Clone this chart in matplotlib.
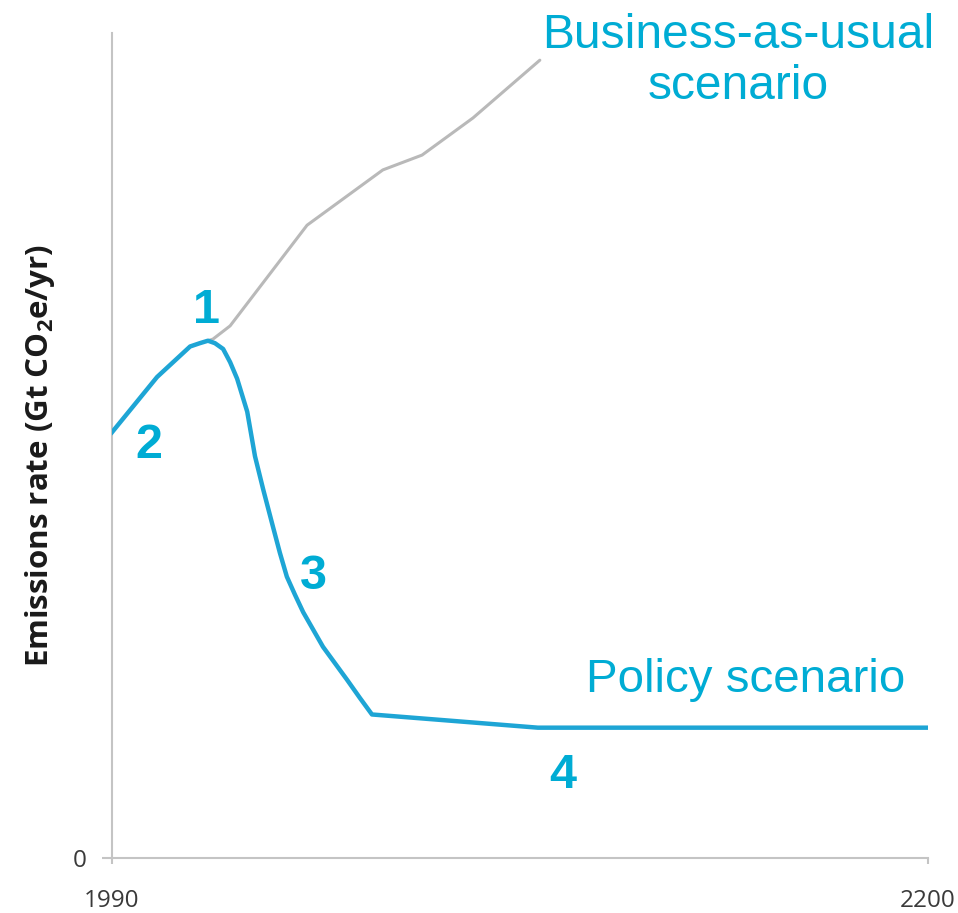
import matplotlib.pyplot as plt

# policy scenario (blue)
policy_years = [1990, 2001.6, 2010.1, 2012.6, 2014.7, 2016.5, 2018.6, 2020.4, 2022.2,
                2024.8, 2026.8, 2028.9, 2031.4, 2033.2, 2035.0, 2037.1, 2039.2, 2044.3,
                2047.4, 2050.5, 2053.8, 2056.9, 2078.3, 2099.6, 2200]
policy_vals = [51.6, 58.3, 62.0, 62.4, 62.7, 62.4, 61.7, 60.1, 58.1,
               54.1, 48.7, 44.7, 40.2, 37.0, 34.1, 31.9, 29.8, 25.6,
               23.6, 21.6, 19.4, 17.4, 16.6, 15.8, 15.8]

# business-as-usual (grey)
bau_years = [2014.7, 2016.0, 2020.4, 2040.2, 2059.7, 2069.8, 2082.9, 2100.1]
bau_vals = [62.7, 62.9, 64.5, 76.7, 83.4, 85.2, 89.7, 96.7]

# numbered callouts (year, value)
marks = ["1", "2", "3", "4"]
mark_x = [2014.3, 1999.6, 2041.8, 2106.0]
mark_y = [66.4, 50.0, 34.1, 10.0]

blue = "#1ea5d5"
txt_blue = "#00acd4"

fig = plt.figure(figsize=(9.58, 9.13), dpi=100)
ax = fig.add_axes([0.1169, 0.0602, 0.8518, 0.9037])

ax.plot(bau_years, bau_vals, color="#b9b9b9", lw=2.2, solid_capstyle="round", zorder=2)
ax.plot(policy_years, policy_vals, color=blue, lw=3.2, solid_joinstyle="round", zorder=3)

for m, x, y in zip(marks, mark_x, mark_y):
    ax.text(x, y, m, color=txt_blue, fontsize=35, fontweight="bold",
            family="Liberation Sans", ha="center", va="center")

ax.text(2151.1, 96.6, "Business-as-usual\nscenario", color=txt_blue, fontsize=34.5,
        family="Liberation Sans", ha="center", va="center", linespacing=1.15)
ax.text(2153.1, 21.6, "Policy scenario", color=txt_blue, fontsize=34.2,
        family="Liberation Sans", ha="center", va="center")

ax.set_xlim(1990, 2200)
ax.set_ylim(0, 100)
ax.set_xticks([1990, 2200])
ax.set_xticklabels(["1990", "2200"])
ax.set_yticks([0])
ax.set_yticklabels(["0"])

for s in ["top", "right"]:
    ax.spines[s].set_visible(False)
for s in ["left", "bottom"]:
    ax.spines[s].set_color("#c4c4c4")
    ax.spines[s].set_linewidth(1.5)

ax.tick_params(axis="x", length=4, width=1.5, color="#c4c4c4", pad=18,
               labelsize=17.5, labelcolor="#3a3a3a")
ax.tick_params(axis="y", length=7, width=1.5, color="#c4c4c4", pad=11,
               labelsize=17.5, labelcolor="#3a3a3a")
for lbl in ax.get_xticklabels() + ax.get_yticklabels():
    lbl.set_family("Open Sans")

plt.rcParams["mathtext.fontset"] = "custom"
plt.rcParams["mathtext.rm"] = "Open Sans:bold"
fig.text(0.042, 1 - 456 / 913, r"Emissions rate (Gt CO$_\mathrm{2}$e/yr)",
         rotation=90, ha="center", va="center", fontsize=22.5, fontweight="bold",
         family="Open Sans", color="#1a1a1a")

fig.savefig("out.png", dpi=100)
